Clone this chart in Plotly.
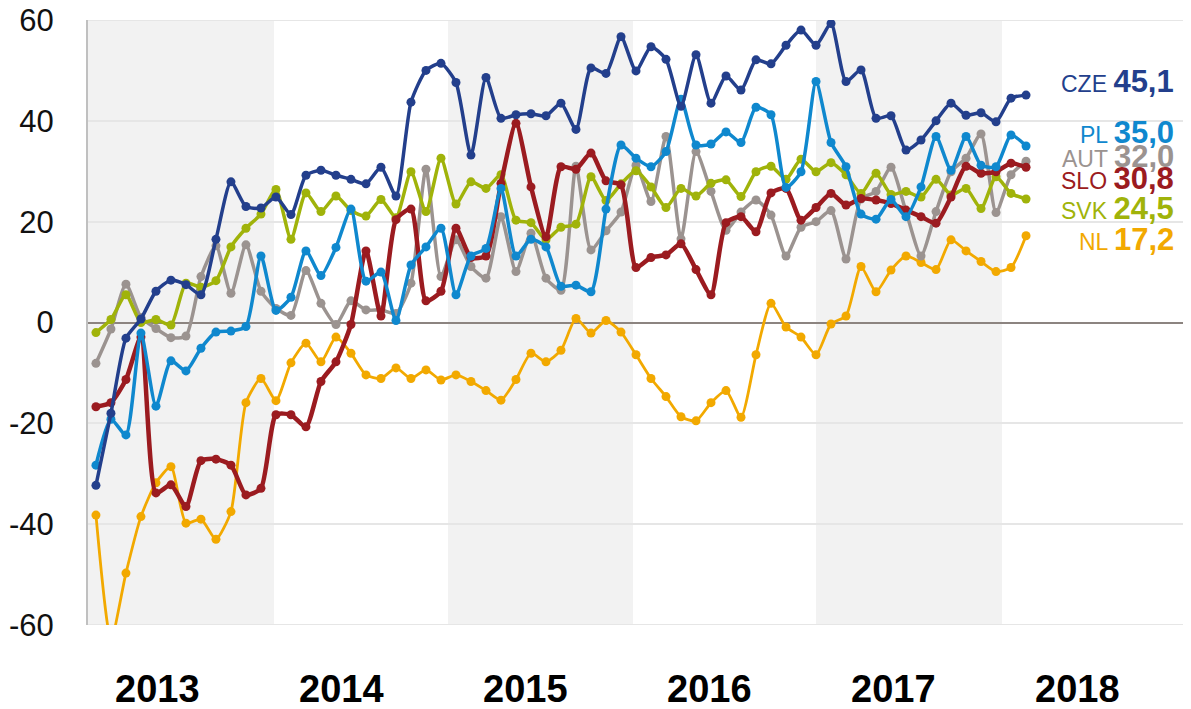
import plotly.graph_objects as go

# ---- data (monthly, Jan 2013 .. Mar 2018) ----
series_names = ["CZE", "PL", "AUT", "SLO", "SVK", "NL"]

cze = [-32.3, -18.0, -3.1, 0.7, 6.2, 8.4, 7.5, 5.5, 16.5, 27.9, 23.0, 22.7, 24.9, 21.4, 29.2, 30.2,
       29.2, 28.4, 27.5, 30.8, 25.1, 43.7, 50.0, 51.4, 47.6, 33.2, 48.6, 40.5, 41.2, 41.4, 41.0, 43.5,
       38.3, 50.5, 49.4, 56.7, 49.9, 54.7, 52.2, 42.9, 53.1, 43.5, 48.9, 46.1, 52.1, 51.3, 55.0, 58.0,
       55.0, 59.3, 47.8, 50.1, 40.5, 41.0, 34.2, 36.2, 40.0, 43.5, 41.1, 41.6, 39.8, 44.5, 45.1]
pl = [-28.3, -19.2, -22.3, -2.1, -16.6, -7.6, -9.6, -5.1, -1.9, -1.7, -0.8, 13.2, 2.4, 5.0, 14.2, 9.3,
      14.9, 22.5, 8.2, 10.0, 0.4, 11.4, 15.0, 18.7, 5.5, 13.2, 14.7, 26.6, 13.2, 16.5, 15.0, 7.2,
      7.4, 6.1, 22.5, 35.2, 32.6, 30.9, 33.9, 44.3, 35.2, 35.4, 37.8, 35.7, 42.7, 41.2, 26.8, 29.9,
      47.8, 35.7, 30.9, 21.5, 20.5, 24.4, 21.0, 26.9, 36.9, 30.2, 36.9, 31.2, 30.9, 37.2, 35.0]
aut = [-8.1, -1.3, 7.6, 1.0, -1.2, -3.0, -2.7, 9.1, 15.2, 5.8, 15.4, 6.2, 2.8, 1.4, 10.3, 3.8,
       -0.4, 4.3, 2.5, 2.5, 1.8, 7.8, 30.4, 9.1, 16.4, 11.1, 8.8, 21.0, 10.1, 17.7, 8.8, 6.4,
       31.0, 14.4, 18.2, 21.9, 31.2, 24.0, 36.9, 16.6, 33.9, 26.0, 18.3, 21.9, 24.3, 21.3, 13.2, 18.9,
       20.0, 22.2, 12.6, 24.5, 26.0, 30.8, 22.0, 13.2, 22.0, 29.9, 32.6, 37.4, 21.8, 29.3, 32.0]
slo = [-16.7, -15.9, -11.3, -2.9, -33.8, -32.2, -36.5, -27.4, -27.1, -28.3, -34.2, -32.9, -18.3, -18.3, -20.7, -11.7,
       -7.8, -0.4, 14.2, 1.3, 20.4, 22.5, 4.3, 6.2, 18.7, 12.9, 13.2, 27.6, 39.5, 26.9, 17.0, 30.9,
       30.4, 33.6, 28.1, 27.3, 10.9, 12.9, 13.4, 15.6, 10.5, 5.5, 19.8, 21.0, 18.0, 25.7, 26.6, 20.3,
       22.8, 25.6, 23.3, 24.6, 24.3, 23.6, 22.3, 21.0, 19.7, 24.9, 31.0, 29.6, 29.9, 31.6, 30.8]
svk = [-2.0, 0.6, 5.5, 0.0, 0.6, -0.5, 7.8, 7.0, 8.3, 15.0, 18.7, 21.5, 26.4, 16.5, 25.7, 22.0,
       25.1, 22.2, 21.1, 24.4, 20.8, 29.9, 22.0, 32.6, 23.5, 27.9, 26.6, 29.3, 20.3, 19.8, 16.4, 18.9,
       19.5, 28.9, 24.2, 27.5, 30.1, 26.9, 22.8, 26.6, 25.1, 27.6, 28.3, 25.0, 29.9, 31.0, 28.4, 32.4,
       29.9, 31.7, 29.3, 25.6, 29.6, 25.4, 26.0, 24.9, 28.4, 25.3, 26.6, 22.6, 28.9, 25.6, 24.5]
nl = [-38.2, -63.0, -49.7, -38.5, -31.8, -28.6, -39.8, -39.0, -43.0, -37.5, -15.9, -11.1, -15.5, -8.0, -4.1, -7.8,
      -2.9, -6.1, -10.4, -11.1, -9.0, -11.1, -9.4, -11.4, -10.4, -11.7, -13.5, -15.4, -11.3, -6.1, -7.8, -5.5,
      0.8, -2.1, 0.4, -1.9, -6.4, -11.1, -14.7, -18.7, -19.5, -15.9, -13.5, -18.8, -6.4, 3.8, -0.9, -2.9,
      -6.4, -0.3, 1.3, 11.1, 6.1, 10.4, 13.2, 11.9, 10.5, 16.4, 14.2, 12.1, 10.1, 10.9, 17.2]

years = [2013, 2014, 2015, 2016, 2017, 2018]
y_ticks = [-60, -40, -20, 0, 20, 40, 60]
y_ticktext = ["-60", "-40", "-20", "0", "20", "40", "60"]

colors = {"CZE": "#233F8C", "PL": "#0F88CE", "AUT": "#9B9390",
          "SLO": "#9B1B20", "SVK": "#A0B30A", "NL": "#F2A900"}
values = {"CZE": cze, "PL": pl, "AUT": aut, "SLO": slo, "SVK": svk, "NL": nl}
widths = {"CZE": 3.5, "PL": 3.5, "AUT": 3.5, "SLO": 4.5, "SVK": 3.5, "NL": 2.8}
label_y = {"CZE": 47.9, "PL": 37.6, "AUT": 33.0, "SLO": 28.5, "SVK": 22.6, "NL": 16.5}

FONT = "Liberation Sans, Arial, sans-serif"
GRID = "#E6E6E6"
x_idx = list(range(len(cze)))

fig = go.Figure()

# shaded year bands (2013, 2015, 2017)
band_edges = [-0.53, 11.87, 23.47, 35.8, 48.0, 60.4, 72.53]
for k in (0, 2, 4):
    fig.add_shape(type="rect", xref="x", yref="paper", x0=band_edges[k], x1=band_edges[k + 1],
                  y0=0, y1=1, fillcolor="#F2F2F2", line_width=0, layer="below")

# gridlines at the axis ends (plotly omits them at the edges)
for yv in (y_ticks[0], y_ticks[-1]):
    fig.add_shape(type="line", xref="paper", yref="y", x0=0, x1=1, y0=yv, y1=yv,
                  line=dict(color=GRID, width=2), layer="below")

for name in ["NL", "AUT", "SVK", "SLO", "PL", "CZE"]:
    fig.add_trace(go.Scatter(
        x=x_idx, y=values[name], mode="lines+markers", name=name,
        line=dict(color=colors[name], width=widths[name], shape="spline", smoothing=0.6),
        marker=dict(color=colors[name], size=9),
        showlegend=False, cliponaxis=True))

# end-of-line labels
for name in series_names:
    v = values[name][-1]
    txt = f"{name} <b><span style='font-size:31px'>{v:.1f}".replace(".", ",") + "</span></b>"
    fig.add_annotation(x=72.0, y=label_y[name], xref="x", yref="y", text=txt,
                       showarrow=False, xanchor="right", yanchor="middle",
                       font=dict(family=FONT, size=23, color=colors[name]))

# year labels
for k, yr in enumerate(years):
    fig.add_annotation(x=4.07 + 12.27 * k, y=0, xref="x", yref="paper", text=f"<b>{yr}</b>",
                       showarrow=False, xanchor="center", yanchor="middle", yshift=-64,
                       font=dict(family=FONT, size=38, color="#000000"))

# page body adds an 8px offset, so the figure is sized/margined to compensate
fig.update_layout(
    width=1183, height=701,
    margin=dict(l=80, r=7, t=12, b=84),
    paper_bgcolor="white", plot_bgcolor="white",
    font=dict(family=FONT),
    xaxis=dict(range=[-0.53, 72.53], showgrid=False, zeroline=False, showticklabels=False,
               showline=False, ticks="", automargin=False),
    yaxis=dict(range=[-60, 60], tickvals=y_ticks, ticktext=y_ticktext,
               showgrid=True, gridcolor=GRID, gridwidth=2,
               zeroline=True, zerolinecolor="#8C8480", zerolinewidth=2,
               showline=True, linecolor="#C0C0C0", linewidth=2,
               ticks="", ticklabelstandoff=26, automargin=False, ticklabeloverflow="allow",
               tickfont=dict(family=FONT, size=31, color="#111111")),
)

fig.write_html("out.html")
